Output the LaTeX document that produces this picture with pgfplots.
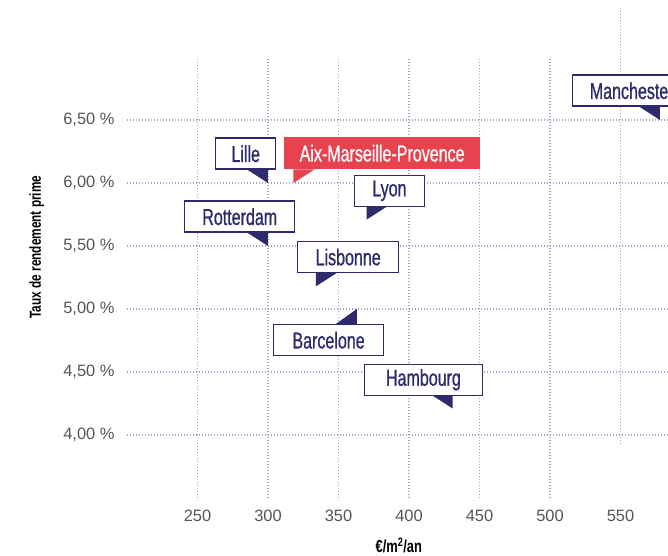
\documentclass[border=0pt]{standalone}
\usepackage{pgfplots}
\pgfplotsset{compat=1.18}
\usepackage{fontspec}
\setmainfont{Liberation Sans}
\newfontfamily\cond[FakeStretch=0.74]{Liberation Sans}
\newfontfamily\condb[FakeStretch=0.70, FakeBold=0.8]{Liberation Sans}
\definecolor{navy}{HTML}{2E2A6C}
\definecolor{accent}{HTML}{E8424F}
\definecolor{gridc}{HTML}{A3A3C6}
\definecolor{tickc}{HTML}{555555}
% callout tails: tip at the data point
\pgfdeclareplotmark{tailR}{% tip at right, box above
  \pgfpathmoveto{\pgfqpoint{0bp}{0bp}}\pgfpathlineto{\pgfqpoint{0bp}{13.5bp}}%
  \pgfpathlineto{\pgfqpoint{-21bp}{13.5bp}}\pgfpathclose\pgfusepathqfill}
\pgfdeclareplotmark{tailL}{% tip at left, box above
  \pgfpathmoveto{\pgfqpoint{0bp}{0bp}}\pgfpathlineto{\pgfqpoint{0bp}{13.5bp}}%
  \pgfpathlineto{\pgfqpoint{21bp}{13.5bp}}\pgfpathclose\pgfusepathqfill}
\pgfdeclareplotmark{tailUR}{% tip at right, box below
  \pgfpathmoveto{\pgfqpoint{0bp}{0bp}}\pgfpathlineto{\pgfqpoint{0bp}{-15bp}}%
  \pgfpathlineto{\pgfqpoint{-21bp}{-15bp}}\pgfpathclose\pgfusepathqfill}
\tikzset{
  box/.style={draw=navy, line width=1.5bp, fill=white, text=navy, inner sep=0pt,
    minimum height=31bp, font=\condb\fontsize{23}{26}\selectfont},
  redbox/.style={draw=accent, line width=1.5bp, fill=accent, text=white, inner sep=0pt,
    minimum height=31bp, font=\condb\fontsize{23}{26}\selectfont},
}
\begin{document}
\begin{tikzpicture}
\begin{axis}[
  scale only axis, width=564bp, height=441bp,
  xmin=200, xmax=600, ymin=3.5, ymax=7.0,
  xtick={250,300,...,500}, extra x ticks={550}, extra x tick style={grid=none},
  ytick={4,4.5,...,6.5},
  grid=major,
  grid style={gridc, line width=1.1bp, dash pattern=on 1bp off 2bp},
  axis line style={draw=none}, major tick length=0pt,
  /pgf/number format/assume math mode=true,
  tick label style={font=\fontsize{16.5}{19}\selectfont, text=tickc},
  yticklabel={\pgfmathprintnumber{\tick}~\%},
  yticklabel style={anchor=east, xshift=-9bp, /pgf/number format/.cd, fixed, fixed zerofill, precision=2, use comma},
  xticklabel style={anchor=north, yshift=-9bp},
  xlabel={€/m\textsuperscript{2}/an},
  ylabel={Taux de rendement prime},
  label style={font=\cond\bfseries\fontsize{16}{18}\selectfont, text=black},
  xlabel style={at={(axis description cs:0.482,-0.107)}, anchor=center, font=\cond\bfseries\fontsize{17.5}{19}\selectfont},
  ylabel style={at={(axis description cs:-0.16,0.569)}, anchor=center},
  clip=false,
]
\draw[gridc, line width=1.1bp, dash pattern=on 1bp off 2bp]
  (axis cs:550,3.93) -- (axis cs:550,7.40);

\addplot[only marks, mark=tailR, navy, nodes near coords={Lille},
  every node near coord/.append style={box, anchor=south west, xshift=-53bp, yshift=13bp, minimum width=60bp}]
  coordinates {(300,6.00)};
\addplot[only marks, mark=tailL, accent, nodes near coords={Aix-Marseille-Provence},
  every node near coord/.append style={redbox, anchor=south west, xshift=-9bp, yshift=13.5bp, minimum width=194bp}]
  coordinates {(318,6.00)};
\addplot[only marks, mark=tailL, navy, nodes near coords={Lyon},
  every node near coord/.append style={box, anchor=south west, xshift=-13bp, yshift=12.5bp, minimum width=70bp}]
  coordinates {(370,5.71)};
\addplot[only marks, mark=tailR, navy, nodes near coords={Rotterdam},
  every node near coord/.append style={box, anchor=south west, xshift=-84bp, yshift=13bp, minimum width=110bp}]
  coordinates {(300,5.50)};
\addplot[only marks, mark=tailL, navy, nodes near coords={Lisbonne},
  every node near coord/.append style={box, anchor=south west, xshift=-19bp, yshift=13bp, minimum width=101bp}]
  coordinates {(334,5.18)};
\addplot[only marks, mark=tailUR, navy, nodes near coords={Barcelone},
  every node near coord/.append style={box, anchor=north west, xshift=-84bp, yshift=-15bp, minimum width=110bp}]
  coordinates {(363,5.00)};
\addplot[only marks, mark=tailR, navy, nodes near coords={Hambourg},
  every node near coord/.append style={box, anchor=south west, xshift=-89bp, yshift=12.5bp, minimum width=118bp}]
  coordinates {(431,4.21)};
\addplot[only marks, mark=tailR, navy, nodes near coords={Manchester},
  every node near coord/.append style={box, anchor=south west, xshift=-88bp, yshift=13bp, minimum width=118bp}]
  coordinates {(578,6.50)};
\end{axis}
\pgfresetboundingbox
\useasboundingbox (-127bp,-58bp) rectangle (541bp,498bp);
\end{tikzpicture}
\end{document}
